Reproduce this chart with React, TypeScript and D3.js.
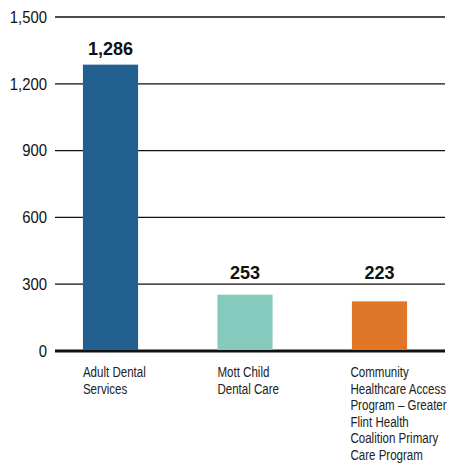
import React from "react";
import * as d3 from "d3";

const categories = ["Adult Dental Services", "Mott Child Dental Care", "Community Healthcare Access Program – Greater Flint Health Coalition Primary Care Program"];
const labelLines = [
  ["Adult Dental", "Services"],
  ["Mott Child", "Dental Care"],
  ["Community", "Healthcare Access", "Program – Greater", "Flint Health", "Coalition Primary", "Care Program"],
];
const values = [1286, 253, 223];
const valueLabels = ["1,286", "253", "223"];
const colors = ["#22608f", "#86c9bd", "#e07628"];
const yTicks = [0, 300, 600, 900, 1200, 1500];

const W = 454;
const H = 466;
const FONT = "'Liberation Sans', Arial, sans-serif";

export default function App() {
  const y = d3.scaleLinear().domain([0, 1500]).range([351, 17]);
  const x = d3.scaleBand<string>().domain(categories).range([43.25, 446.75]).paddingInner(0.59).paddingOuter(0.295);
  const fmt = d3.format(",");

  const labelBaseline = (v: number) => {
    let b = y(v) - 9.5;
    const top = b - 14;
    for (const t of yTicks) {
      const gy = y(t);
      if (t > 0 && gy > top && gy < y(v)) b = Math.min(b, gy - 5);
    }
    return b;
  };

  return (
    <svg width={W} height={H} style={{ position: "absolute", left: 0, top: 0 }} fontFamily={FONT}>
      {yTicks.map((t) => (
        <g key={t}>
          <line x1={55} x2={445} y1={y(t)} y2={y(t)} stroke="#111" strokeWidth={t === 0 ? 2.8 : 1.3} />
          <text transform={`translate(47,${y(t)}) scale(0.93,1)`} dy="0.36em" textAnchor="end" fontSize={16} fill="#111">{fmt(t)}</text>
        </g>
      ))}
      {categories.map((c, i) => (
        <g key={c}>
          <rect x={x(c)} y={y(values[i])} width={x.bandwidth()} height={y(0) - y(values[i]) - 1} fill={colors[i]} />
          <text transform={`translate(${(x(c) as number) + x.bandwidth() / 2},${labelBaseline(values[i])}) scale(0.95,1)`} textAnchor="middle" fontSize={19} fontWeight="bold" fill="#111">{valueLabels[i]}</text>
          {labelLines[i].map((l, j) => (
            <text key={j} transform={`translate(${(x(c) as number) + (i === 2 ? -1.5 : 0)},${377 + j * 16.6}) scale(0.77,1)`} fontSize={15} fill="#222">{l}</text>
          ))}
        </g>
      ))}
    </svg>
  );
}
